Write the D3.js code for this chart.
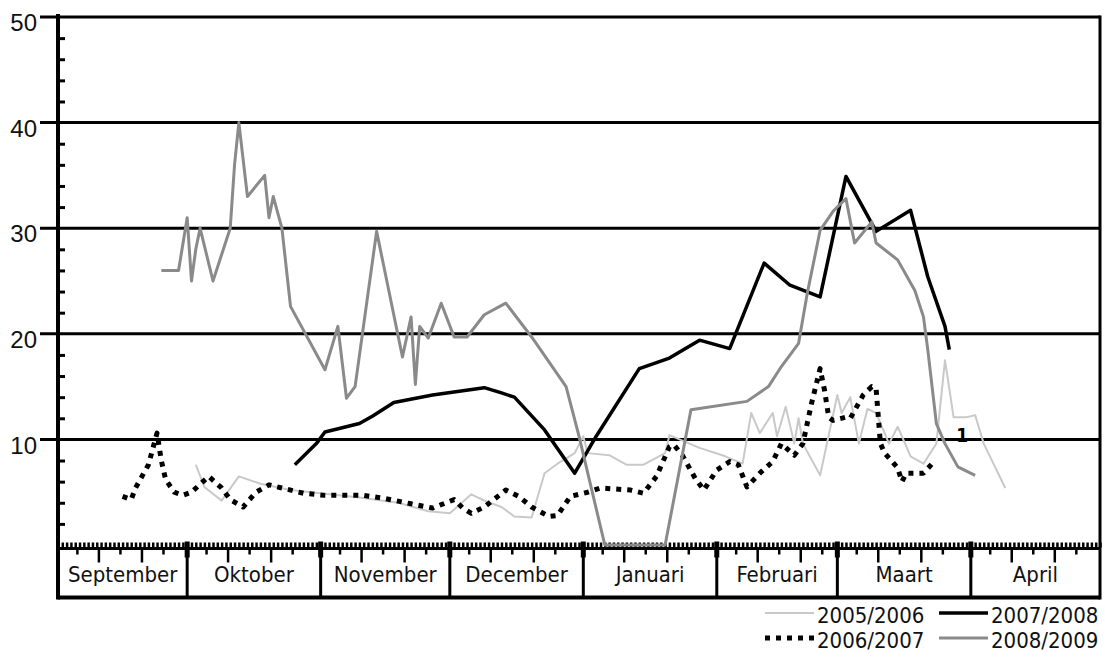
<!DOCTYPE html>
<html>
<head>
<meta charset="utf-8">
<script src="https://cdn.jsdelivr.net/npm/d3@7"></script>
<style>
  body { margin: 0; background: #fff; }
  svg { display: block; font-family: "DejaVu Sans Condensed", "DejaVu Sans", sans-serif; font-stretch: condensed; }
</style>
</head>
<body>
<div id="chart"></div>
<script>
// season data: [month-day, value]
var seasons = ["2005/2006", "2006/2007", "2007/2008", "2008/2009"];
var monthLabels = ["September", "Oktober", "November", "December", "Januari", "Februari", "Maart", "April"];
var yTicks = [10, 20, 30, 40, 50];

var s0506 = [["10-03",7.6],["10-05",5.5],["10-09",4.2],["10-13",6.5],["10-18",5.8],["10-25",5.2],["11-03",4.8],["11-10",4.5],
  ["11-19",4.0],["11-26",3.2],["12-01",3.0],["12-06",4.8],["12-09",4.2],["12-13",3.6],["12-16",2.7],["12-20",2.6],["12-23",6.8],
  ["12-26",7.7],["12-30",8.7],["01-01",10.3],["01-02",8.7],["01-07",8.5],["01-11",7.6],["01-15",7.6],["01-20",8.7],["01-21",10.4],
  ["01-28",9.2],["02-03",8.4],["02-07",7.7],["02-09",12.5],["02-11",10.6],["02-14",12.5],["02-15",10.3],["02-17",13.1],["02-19",9.6],
  ["02-20",12.0],["02-21",9.6],["02-25",6.6],["03-01",14.2],["03-02",12.5],["03-04",14.0],["03-06",9.6],["03-08",12.9],["03-10",12.5],
  ["03-13",9.6],["03-15",11.2],["03-16",10.3],["03-18",8.4],["03-21",7.7],["03-24",9.6],["03-26",17.5],["03-28",12.1],["03-31",12.1],
  ["04-02",12.3],["04-04",9.6],["04-09",5.4]];

var s0607 = [["09-16",4.6],["09-18",4.3],["09-19",5.4],["09-22",7.6],["09-24",10.6],["09-25",8.0],["09-26",6.2],["09-28",5.0],
  ["09-30",4.7],["10-02",5.0],["10-06",6.5],["10-09",5.4],["10-11",4.3],["10-14",3.6],["10-17",5.0],["10-20",5.7],["10-23",5.4],
  ["10-28",4.9],["11-02",4.7],["11-11",4.7],["11-16",4.4],["11-22",3.9],["11-27",3.5],["12-02",4.3],["12-04",3.5],["12-06",3.0],
  ["12-09",3.6],["12-14",5.2],["12-17",4.6],["12-20",3.6],["12-24",2.7],["12-26",2.8],["12-29",4.6],["01-02",5.0],["01-05",5.4],
  ["01-12",5.2],["01-15",4.9],["01-18",6.5],["01-21",9.3],["01-22",9.5],["01-24",8.5],["01-27",6.3],["01-29",5.2],["02-01",7.1],
  ["02-04",7.9],["02-06",7.6],["02-08",5.5],["02-11",6.8],["02-14",7.9],["02-16",9.6],["02-19",8.5],["02-21",9.6],["02-23",13.4],
  ["02-25",16.7],["02-26",14.7],["02-27",12.1],["02-28",11.8],["03-03",12.1],["03-04",12.0],["03-07",14.2],["03-09",15.0],
  ["03-10",14.8],["03-11",9.6],["03-12",8.7],["03-15",7.3],["03-16",6.0],["03-17",6.8],["03-21",6.8],["03-23",7.7]];

var s0708 = [["10-26",7.6],["10-31",9.6],["11-02",10.7],["11-10",11.5],["11-13",12.2],["11-18",13.5],["11-27",14.2],["12-09",14.9],
  ["12-13",14.4],["12-16",14.0],["12-23",10.9],["12-30",6.8],["01-04",10.3],["01-14",16.7],["01-21",17.7],["01-28",19.4],
  ["02-04",18.6],["02-12",26.7],["02-18",24.6],["02-25",23.5],["03-03",34.9],["03-10",29.7],["03-18",31.7],["03-22",25.4],
  ["03-26",20.7],["03-27",18.5]];

var s0809 = [["09-25",26],["09-29",26],["10-01",31],["10-02",25],["10-03",28],["10-04",30],["10-07",25],["10-11",30],["10-12",36],
  ["10-13",40],["10-14",36.5],["10-15",33],["10-19",35],["10-20",31],["10-21",33],["10-23",30],["10-25",22.6],["11-02",16.6],
  ["11-05",20.7],["11-07",13.9],["11-09",15],["11-14",29.7],["11-20",17.8],["11-22",21.6],["11-23",15.2],["11-24",20.7],
  ["11-26",19.6],["11-29",22.9],["12-02",19.7],["12-05",19.7],["12-09",21.8],["12-14",22.9],["12-20",19.7],["12-28",15],
  ["12-31",10.3],["01-06",0],["01-20",0],["01-26",12.8],["02-08",13.6],["02-13",15],["02-16",16.9],["02-20",19.1],["02-22",23.8],
  ["02-25",29.8],["02-28",31.6],["03-03",32.8],["03-05",28.6],["03-09",30.6],["03-10",28.6],["03-15",27],["03-19",24.1],
  ["03-21",21.6],["03-22",18.5],["03-24",11.5],["03-26",9.6],["03-29",7.4],["04-02",6.6]];

var seriesValues = [s0506, s0607, s0708, s0809];

// stray mark in the picture
var noteDate = "03-30", noteValue = 9.8, noteText = "1";

var width = 1105, height = 658;
var plotLeft = 58, plotRight = 1100, plotTop = 17,
    zeroY = 545, baseY = 548.5, boxBottom = 597.5;

var styles = [
  { color: "#c9c9c9", width: 2, dash: null },
  { color: "#000", width: 5, dash: "5,6" },
  { color: "#000", width: 3.5, dash: null },
  { color: "#8a8a8a", width: 3, dash: null }
];

// season days: Sep-Dec in one year, Jan-Apr in the next (no leap day)
function toDate(md) {
  var p = md.split("-").map(Number);
  return new Date(p[0] >= 9 ? 2000 : 2001, p[0] - 1, p[1]);
}

var start = new Date(2000, 8, 1), end = new Date(2001, 4, 1);

var x = d3.scaleTime().domain([start, end]).range([plotLeft, plotRight]);
var y = d3.scaleLinear().domain([0, 50]).range([zeroY, plotTop]);

var svg = d3.select("#chart").append("svg")
    .attr("width", width)
    .attr("height", height);

// grid lines (the 50 line is the top of the frame)
svg.append("g").selectAll("line")
    .data(yTicks)
    .enter().append("line")
    .attr("x1", plotLeft - 18)
    .attr("x2", plotRight)
    .attr("y1", function (d) { return y(d); })
    .attr("y2", function (d) { return y(d); })
    .style("stroke", "#000")
    .style("stroke-width", "3px");

// y labels
var yAxis = svg.append("g")
    .attr("transform", "translate(" + plotLeft + ",0)")
    .call(d3.axisLeft(y).tickValues(yTicks).tickSize(18).tickPadding(3));
yAxis.select(".domain").remove();
yAxis.selectAll("line").remove();
yAxis.selectAll("text")
    .attr("y", 6)
    .style("font-family", "inherit")
    .style("font-size", "24px")
    .style("fill", "#111");

// minor ticks every 2 on the inside
var minor = d3.range(2, 50, 2).filter(function (d) { return d % 10 != 0; });
var yMinor = svg.append("g")
    .attr("transform", "translate(" + plotLeft + ",0)")
    .call(d3.axisRight(y).tickValues(minor).tickSize(7).tickFormat(""));
yMinor.select(".domain").remove();
yMinor.selectAll("line").style("stroke", "#000").style("stroke-width", "3px");

// daily ticks on top of the base line
var dayAxis = svg.append("g")
    .attr("transform", "translate(0," + (baseY - 1) + ")")
    .call(d3.axisTop(x).ticks(d3.timeDay.every(1)).tickSize(5).tickFormat(""));
dayAxis.select(".domain").remove();
dayAxis.selectAll("line").style("stroke", "#000").style("stroke-width", "2.5px");

// base line
svg.append("line")
    .attr("x1", plotLeft).attr("x2", plotRight)
    .attr("y1", baseY).attr("y2", baseY)
    .style("stroke", "#000").style("stroke-width", "3px");

// 5-day ticks below the base line, longer on the 10th and 20th
var months = d3.timeMonth.range(start, end);
var fiveDays = [];
months.forEach(function (m) {
  [5, 10, 15, 20, 25].forEach(function (d) {
    fiveDays.push(d3.timeHour.offset(new Date(m.getFullYear(), m.getMonth(), d), 12));
  });
});
svg.append("g").selectAll("line")
    .data(fiveDays)
    .enter().append("line")
    .attr("x1", function (d) { return x(d); })
    .attr("x2", function (d) { return x(d); })
    .attr("y1", baseY)
    .attr("y2", function (d) { return baseY + (d.getDate() % 10 == 0 ? 14 : 6); })
    .style("stroke", "#000")
    .style("stroke-width", "2.5px");

// month boxes
svg.append("g").selectAll("line")
    .data(months.slice(1))
    .enter().append("line")
    .attr("x1", function (d) { return x(d); })
    .attr("x2", function (d) { return x(d); })
    .attr("y1", baseY - 7)
    .attr("y2", baseY + 9)
    .style("stroke", "#000")
    .style("stroke-width", "5px");

svg.append("g").selectAll("line")
    .data(months.slice(1))
    .enter().append("line")
    .attr("x1", function (d) { return x(d); })
    .attr("x2", function (d) { return x(d); })
    .attr("y1", baseY)
    .attr("y2", boxBottom)
    .style("stroke", "#000")
    .style("stroke-width", "3px");

svg.append("line")
    .attr("x1", plotLeft).attr("x2", plotRight)
    .attr("y1", boxBottom).attr("y2", boxBottom)
    .style("stroke", "#000").style("stroke-width", "4px");

svg.append("g").selectAll("text")
    .data(months)
    .enter().append("text")
    .attr("x", function (d) { return (x(d) + x(d3.timeMonth.offset(d, 1))) / 2; })
    .attr("y", 582)
    .attr("text-anchor", "middle")
    .style("font-size", "22px")
    .style("fill", "#111")
    .text(function (d, i) { return monthLabels[i]; });

// left axis and right border
svg.append("line")
    .attr("x1", plotLeft).attr("x2", plotLeft)
    .attr("y1", plotTop - 3).attr("y2", boxBottom + 2)
    .style("stroke", "#000").style("stroke-width", "4px");
svg.append("line")
    .attr("x1", plotRight).attr("x2", plotRight)
    .attr("y1", plotTop - 1.5).attr("y2", boxBottom + 2)
    .style("stroke", "#000").style("stroke-width", "3px");

// season lines
var line = d3.line()
    .x(function (d) { return x(toDate(d[0])); })
    .y(function (d) { return y(d[1]); });

seriesValues.forEach(function (vals, i) {
  svg.append("path")
      .datum(vals)
      .attr("d", line)
      .style("fill", "none")
      .style("stroke", styles[i].color)
      .style("stroke-width", styles[i].width + "px")
      .style("stroke-dasharray", styles[i].dash)
      .style("stroke-linejoin", "round");
});

svg.append("text")
    .attr("x", x(toDate(noteDate)))
    .attr("y", y(noteValue))
    .attr("text-anchor", "middle")
    .style("font-size", "19px")
    .style("font-weight", "bold")
    .text(noteText);

// legend, two columns
var legend = svg.append("g");
seasons.forEach(function (s, i) {
  var col = Math.floor(i / 2), row = i % 2;
  var tx = col == 0 ? 817 : 991,
      ty = 623 + row * 25;
  legend.append("line")
      .attr("x1", tx - 52).attr("x2", tx - 3)
      .attr("y1", ty - 10).attr("y2", ty - 10)
      .style("stroke", styles[i].color)
      .style("stroke-width", styles[i].width + "px")
      .style("stroke-dasharray", styles[i].dash);
  legend.append("text")
      .attr("x", tx)
      .attr("y", ty)
      .style("font-size", "22px")
      .style("fill", "#111")
      .text(s);
});
</script>
</body>
</html>
